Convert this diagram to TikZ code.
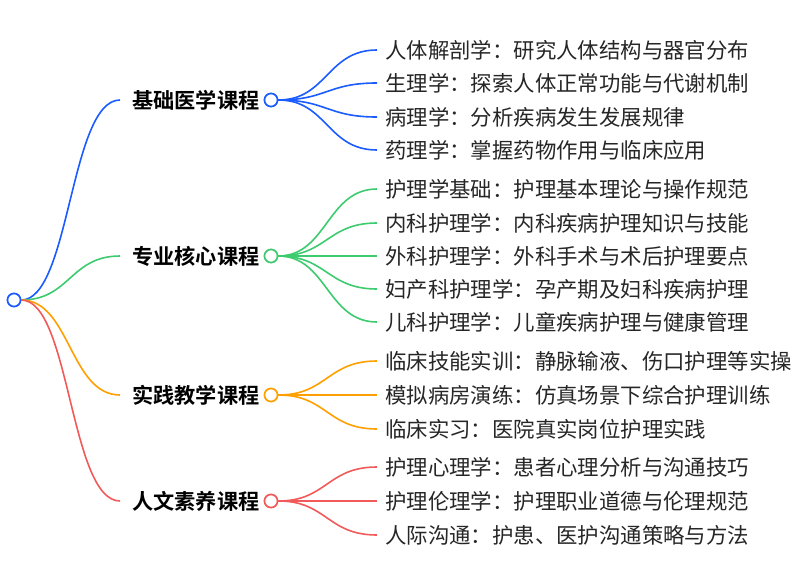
\documentclass[tikz,border=0pt]{standalone}
\usepackage{fontspec}
\newfontfamily\cjk{Noto Sans CJK SC}
\newfontfamily\cjkb{Noto Sans CJK SC Bold}
\definecolor{cb}{HTML}{1A5CFF}
\definecolor{cg}{HTML}{3CCB6E}
\definecolor{co}{HTML}{FFA000}
\definecolor{cr}{HTML}{F25A5A}
\begin{document}
\begin{tikzpicture}[x=1pt,y=-1pt,
  leaf/.style={anchor=west,inner sep=0pt,font=\cjk\fontsize{21.4}{22}\selectfont,text=black!85},
  br/.style={anchor=west,inner sep=0pt,font=\cjkb\fontsize{21.2}{22}\selectfont},
  dot/.style={circle,draw=#1,line width=1.6pt,fill=white,minimum size=13pt,inner sep=0pt},
  ln/.style={draw=#1,line width=1.6pt}]
\useasboundingbox (0,0) rectangle (805,586);
\node[dot=cb] (root) at (14,300) {};
\def\branch#1#2#3#4{%
  \coordinate (b#1) at (120,#2);
  \path[ln=#3] (root.east) .. controls (70,300) and (70,#2) .. (b#1);
  \node[br] (bt#1) at (132,#2) {#4};
  \node[dot=#3] (bd#1) at (271,#2) {};}
\def\leaf#1#2#3#4#5{%
  \coordinate (e#1#2) at (377,#3);
  \path[ln=#4] (bd#1.east) .. controls (327,\csname by#1\endcsname) and (327,#3) .. (e#1#2);
  \node[leaf] (l#1#2) at (385,#3) {#5};}
\def\bya{100}\def\byb{256}\def\byc{395}\def\byd{501}
\branch{a}{100}{cb}{基础医学课程}
\branch{b}{256}{cg}{专业核心课程}
\branch{c}{395}{co}{实践教学课程}
\branch{d}{501}{cr}{人文素养课程}
\node[dot=cb] at (14,300) {};
\leaf{a}{1}{50}{cb}{人体解剖学：研究人体结构与器官分布}
\leaf{a}{2}{83}{cb}{生理学：探索人体正常功能与代谢机制}
\leaf{a}{3}{117}{cb}{病理学：分析疾病发生发展规律}
\leaf{a}{4}{150}{cb}{药理学：掌握药物作用与临床应用}
\leaf{b}{1}{189}{cg}{护理学基础：护理基本理论与操作规范}
\leaf{b}{2}{223}{cg}{内科护理学：内科疾病护理知识与技能}
\leaf{b}{3}{256}{cg}{外科护理学：外科手术与术后护理要点}
\leaf{b}{4}{289}{cg}{妇产科护理学：孕产期及妇科疾病护理}
\leaf{b}{5}{322}{cg}{儿科护理学：儿童疾病护理与健康管理}
\leaf{c}{1}{361}{co}{临床技能实训：静脉输液、伤口护理等实操}
\leaf{c}{2}{395}{co}{模拟病房演练：仿真场景下综合护理训练}
\leaf{c}{3}{429}{co}{临床实习：医院真实岗位护理实践}
\leaf{d}{1}{467}{cr}{护理心理学：患者心理分析与沟通技巧}
\leaf{d}{2}{501}{cr}{护理伦理学：护理职业道德与伦理规范}
\leaf{d}{3}{535}{cr}{人际沟通：护患、医护沟通策略与方法}
\foreach \b/\y/\c in {a/100/cb,b/256/cg,c/395/co,d/501/cr}{\node[dot=\c] at (271,\y) {};}
\end{tikzpicture}
\end{document}
